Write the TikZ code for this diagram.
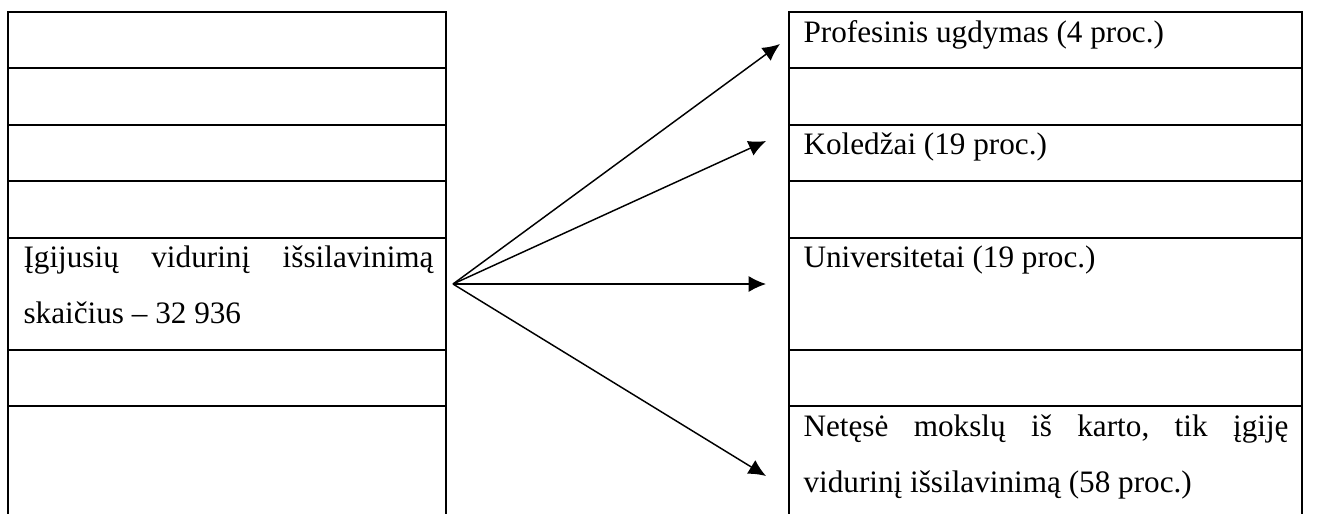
\documentclass[tikz,border=0pt]{standalone}
\usepackage{fontspec}
\setmainfont{Liberation Serif}
\usetikzlibrary{arrows.meta,fit}
\begin{document}
\begin{tikzpicture}[x=0.375pt,y=-0.375pt,
  cell/.style={draw,line width=0.85pt,inner sep=0pt},
  lbl/.style={anchor=base west,inner sep=0pt,font=\fontsize{11.7pt}{14pt}\selectfont},
  conn/.style={line width=0.55pt,-{Latex[length=6.5pt,width=6pt]}}]
\useasboundingbox (0,0) rectangle (1323,513);
% left column
\node[cell,fit={(8,12) (446,68)}] (l1) {};
\node[cell,fit={(8,68) (446,125)}] (l2) {};
\node[cell,fit={(8,125) (446,181)}] (l3) {};
\node[cell,fit={(8,181) (446,238)}] (l4) {};
\node[cell,fit={(8,238) (446,350)}] (l5) {};
\node[cell,fit={(8,350) (446,406)}] (l6) {};
\node[cell,fit={(8,406) (446,530)}] (l7) {};
% right column
\node[cell,fit={(789,12) (1302,68)}] (r1) {};
\node[cell,fit={(789,68) (1302,125)}] (r2) {};
\node[cell,fit={(789,125) (1302,181)}] (r3) {};
\node[cell,fit={(789,181) (1302,238)}] (r4) {};
\node[cell,fit={(789,238) (1302,350)}] (r5) {};
\node[cell,fit={(789,350) (1302,406)}] (r6) {};
\node[cell,fit={(789,406) (1302,530)}] (r7) {};
% texts
\node[lbl] (ta) at (23,267) {\hbox to 153.75pt{Įgijusių\hfill vidurinį\hfill išsilavinimą}};
\node[lbl] (tb) at (23,323) {skaičius – 32 936};
\node[lbl] (tc) at (803,42) {Profesinis ugdymas (4 proc.)};
\node[lbl] (td) at (803,154) {Koledžai (19 proc.)};
\node[lbl] (te) at (803,267) {Universitetai (19 proc.)};
\node[lbl] (tf) at (803,436) {\hbox to 181.875pt{Netęsė\hfill mokslų\hfill iš\hfill karto,\hfill tik\hfill įgiję}};
\node[lbl] (tg) at (803,492) {vidurinį išsilavinimą (58 proc.)};
% connectors
\coordinate (src) at (453,284);
\coordinate (t1) at (780,44);
\coordinate (t2) at (766,141);
\coordinate (t3) at (766,284);
\coordinate (t4) at (766,476);
\draw[conn] (src) -- (t1);
\draw[conn] (src) -- (t2);
\draw[conn] (src) -- (t3);
\draw[conn] (src) -- (t4);
\end{tikzpicture}
\end{document}
